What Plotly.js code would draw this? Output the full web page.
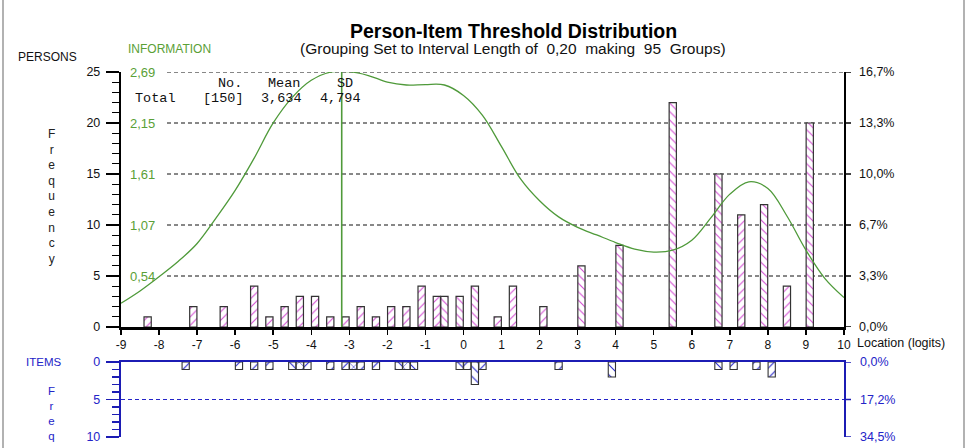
<!DOCTYPE html>
<html>
<head>
<meta charset="utf-8">
<script src="https://cdn.plot.ly/plotly-3.0.1.min.js"></script>
<style>html,body{margin:0;padding:0;background:#fff;}#chart{width:971px;height:448px;}</style>
</head>
<body>
<div id="chart"></div>
<script>
// ---------- data ----------
const personLoc   = [-8.3,-7.1,-6.3,-5.5,-5.1,-4.7,-4.3,-3.9,-3.5,-3.1,-2.7,-2.3,-1.9,-1.5,-1.1,-0.7,-0.5,-0.1,0.3,0.9,1.3,2.1,3.1,4.1,5.5,6.7,7.3,7.9,8.5,9.1];
const personCount = [1,2,2,4,1,2,3,3,1,1,2,1,2,2,4,3,3,3,4,1,4,2,6,8,22,15,11,12,4,20];
const personHatch = ['/','/','/','/','/','/','/','/','/','/','/','/','/','/','/','/','\\','\\','\\','/','/','/','\\','\\','\\','\\','/','\\','/','\\'];
const personTotal = 150;

const itemLoc   = [-7.3,-5.9,-5.5,-5.1,-4.5,-4.3,-4.1,-3.5,-3.1,-2.9,-2.7,-2.3,-1.7,-1.5,-1.3,-0.1,0.1,0.3,0.5,2.5,3.9,6.7,7.1,7.7,8.1];
const itemCount = [1,1,1,1,1,1,1,1,1,1,1,1,1,1,1,1,1,3,1,1,2,1,1,1,2];
const itemHatch = ['/','/','/','/','\\','x','/','/','/','x','/','/','\\','x','\\','\\','/','\\','/','/','\\','\\','/','/','/'];
const itemTotal = 29;

const infoLoc   = [-9,-8.5,-8,-7.5,-7,-6.5,-6,-5.5,-5,-4.5,-4,-3.5,-3,-2.5,-2,-1.5,-1,-0.5,0,0.5,1,1.5,2,2.5,3,3.5,4,4.5,5,5.5,6,6.5,7,7.5,8,8.5,9,9.5,10];
const infoValue = [0.25,0.38,0.53,0.69,0.88,1.15,1.44,1.78,2.15,2.42,2.60,2.685,2.69,2.65,2.58,2.55,2.555,2.55,2.44,2.23,1.90,1.56,1.33,1.16,1.05,0.97,0.89,0.82,0.79,0.81,0.915,1.15,1.40,1.53,1.46,1.17,0.81,0.51,0.31];
const infoMax = 2.687;
const infoMarkerLoc = -3.2;

const xTicks = [-9,-8,-7,-6,-5,-4,-3,-2,-1,0,1,2,3,4,5,6,7,8,9,10];
const personTicks = [0,5,10,15,20,25];
const itemTicks = [0,5,10];

const statsHead = ['No.','Mean','SD'];
const statsRow  = ['Total','[150]','3,634','4,794'];

// ---------- helpers ----------
const L = 121, R = 127, T = 72, B = 11, W = 971, H = 448;
const PW = W - L - R, PH = H - T - B;
const px = v => (v - L) / PW;
const py = v => (H - B - v) / PH;
const comma = (v, d) => v.toFixed(d).replace('.', ',');

const GREEN = '#4f9a3a', GREENTXT = '#5aa036', BLUE = '#2424c8', NAVY = '#1c1cb4', PINK = '#d24ad2';
const FONT = 'Liberation Sans, Arial, sans-serif';
const MONO = 'Liberation Mono, Courier New, monospace';

const traces = [
  {type:'bar', x: personLoc, y: personCount, xaxis:'x', yaxis:'y', width:0.19,
   marker:{color:'white', line:{color:'#333', width:1.2},
           pattern:{shape: personHatch, fgcolor: PINK, bgcolor:'white', size:6, solidity:0.18, fillmode:'replace'}}},
  {type:'scatter', mode:'lines', x: infoLoc, y: infoValue, xaxis:'x', yaxis:'y4',
   line:{color: GREEN, width:1.3, shape:'spline', smoothing:1}},
  {type:'bar', x: itemLoc, y: itemCount, base:0, xaxis:'x2', yaxis:'y2', width:0.19,
   marker:{color:'white', line:{color:'#333', width:1.1},
           pattern:{shape: itemHatch, fgcolor: BLUE, bgcolor:'white', size:7, solidity:0.15, fillmode:'replace'}}}
];

const shapes = [];
personTicks.filter(v => v > 0).forEach(v => shapes.push({type:'line', xref:'paper', yref:'y', x0: px(167), x1: 1, y0: v, y1: v,
  line:{color:'#111', width:1, dash:'4px,3px'}, layer:'below'}));
// right-hand axis tick marks
personTicks.forEach(v => shapes.push({type:'line', xref:'paper', yref:'y', x0: 1, x1: px(851), y0: v, y1: v,
  line:{color:'#000', width:1.5}}));
itemTicks.forEach(v => shapes.push({type:'line', xref:'paper', yref:'y2', x0: 1, x1: px(851), y0: v, y1: v,
  line:{color: NAVY, width:1.5}}));
shapes.push({type:'line', xref:'x', yref:'y', x0: infoMarkerLoc, x1: infoMarkerLoc, y0: 0, y1: 25, line:{color: GREEN, width:1.6}});
shapes.push({type:'line', xref:'paper', yref:'paper', x0: px(3), x1: px(3), y0: py(-5), y1: py(455), line:{color:'#999', width:1.5}});
shapes.push({type:'line', xref:'paper', yref:'paper', x0: px(964), x1: px(964), y0: py(-5), y1: py(455), line:{color:'#999', width:1.5}});

const ann = [];
function txt(t, x, y, size, color, opts) {
  ann.push(Object.assign({text: t, xref:'paper', yref:'paper', x: px(x), y: py(y), showarrow:false,
    xanchor:'center', yanchor:'middle', font:{family: FONT, size: size, color: color}}, opts || {}));
}
txt('<b>Person-Item Threshold Distribution</b>', 513, 31, 19.5, '#000');
txt('(Grouping Set to Interval Length of\u00a0 0,20\u00a0 making\u00a0 95\u00a0 Groups)', 513, 49, 15.5, '#111');
txt('PERSONS', 47.5, 57, 12, '#111');
txt('INFORMATION', 169, 49, 12, GREENTXT);
txt('F<br>r<br>e<br>q<br>u<br>e<br>n<br>c<br>y', 51, 196, 12, '#222');
txt('ITEMS', 43.5, 362, 11.5, BLUE);
txt('F<br>r<br>e<br>q', 51, 413, 11.5, BLUE);
txt('Location (logits)', 855, 343, 12.5, '#111', {xanchor:'left'});
const headX = [230, 284, 345], rowX = [155, 223, 281, 340];
const monoFont = {family: MONO, size:13.5, color:'#111'};
statsHead.forEach((s, i) => txt(s, headX[i], 84, 13.5, '#111', {font: monoFont}));
statsRow.forEach((s, i) => txt(s, rowX[i], 98, 13.5, '#111', {font: monoFont}));
// right-hand percentage labels
personTicks.forEach(v => ann.push({text: comma(100 * v / personTotal, 1) + '%', xref:'paper', yref:'y', x: px(857), y: v,
  xanchor:'left', yanchor:'middle', showarrow:false, font:{family: FONT, size:12.5, color:'#111'}}));
itemTicks.forEach(v => ann.push({text: comma(100 * v / itemTotal, 1) + '%', xref:'paper', yref:'y2', x: px(858), y: v,
  xanchor:'left', yanchor:'middle', showarrow:false, font:{family: FONT, size:12.5, color: BLUE}}));

const layout = {
  width: W, height: H, margin:{l:L, r:R, t:T, b:B, pad:0},
  paper_bgcolor:'white', plot_bgcolor:'white', showlegend:false, bargap:0,
  font:{family: FONT, size: 12, color:'#111'},
  xaxis:{domain:[0,1], anchor:'y', range:[-9,10], tickvals: xTicks, ticktext: xTicks.map(String),
         ticks:'outside', ticklen:5, tickwidth:1.5, tickcolor:'#000', showline:true, linewidth:2.5, linecolor:'#000',
         showgrid:false, zeroline:false, ticklabeloverflow:'allow', tickfont:{size:12, color:'#111'}},
  xaxis3:{overlaying:'x', anchor:'y', range:[-9,10], tickvals: xTicks, showticklabels:false,
          ticks:'inside', ticklen:4, tickwidth:1.5, tickcolor:'#000', showline:false, showgrid:false, zeroline:false},
  yaxis:{domain:[py(327), 1], anchor:'x', range:[0,25], tickvals: personTicks, ticks:'outside', ticklen:13, tickwidth:1.5,
         tickcolor:'#000', minor:{dtick:1, ticklen:7, ticks:'outside', tickcolor:'#000', tickwidth:1.2},
         showline:true, mirror:true, linewidth:2.2, linecolor:'#000', showgrid:false, zeroline:false, ticklabelstandoff:3,
         ticklabeloverflow:'allow', tickfont:{size:12.5, color:'#111'}},
  yaxis4:{overlaying:'y', anchor:'x', side:'left', range:[0, infoMax],
          tickvals:[1,2,3,4,5].map(i => infoMax * i / 5), ticktext:[1,2,3,4,5].map(i => comma(infoMax * i / 5, 2)),
          ticklabelposition:'inside', ticklabeloverflow:'allow', ticklabelstandoff:6, ticks:'', showline:false,
          showgrid:false, zeroline:false, tickfont:{size:13, color: GREENTXT}},
  xaxis2:{domain:[0,1], anchor:'y2', matches:'x', range:[-9,10], side:'top', showticklabels:false, ticks:'',
          showline:true, linewidth:2.2, linecolor: NAVY, showgrid:false, zeroline:false},
  yaxis2:{domain:[0, py(362)], anchor:'x2', range:[10,0], tickvals: itemTicks, ticks:'outside', ticklen:13, tickwidth:1.5,
          tickcolor: NAVY, minor:{dtick:1, ticklen:7, ticks:'outside', tickcolor: NAVY, tickwidth:1.2},
          showline:true, mirror:true, linewidth:2.2, linecolor: NAVY, showgrid:true, gridcolor: BLUE, gridwidth:1, griddash:'4px,3px',
          zeroline:false, ticklabelstandoff:3, ticklabeloverflow:'allow', tickfont:{size:12.5, color: BLUE}},
  shapes: shapes, annotations: ann
};

Plotly.newPlot('chart', traces, layout, {staticPlot:true, displayModeBar:false});
</script>
</body>
</html>
